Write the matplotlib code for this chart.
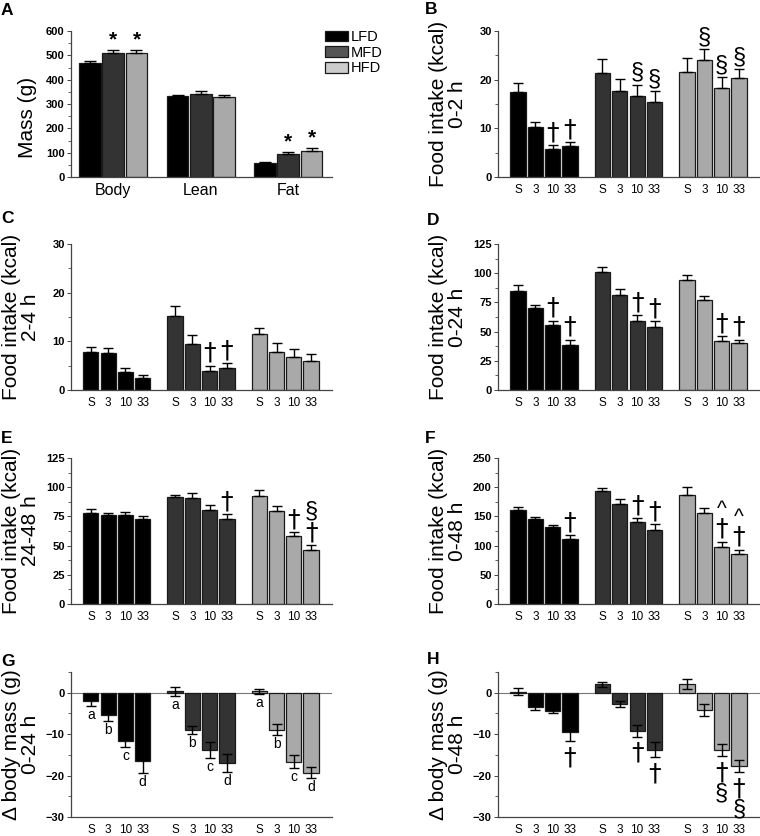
import matplotlib
matplotlib.use('Agg')
import matplotlib.pyplot as plt
from matplotlib.patches import Patch
import numpy as np

plt.rcParams['font.family'] = ['Liberation Sans', 'DejaVu Sans']

# ---- data ----
diets = ['LFD', 'MFD', 'HFD']
doses = ['S', '3', '10', '33']
mass_cats = ['Body', 'Lean', 'Fat']

# A: mass (g), rows = diet, cols = Body/Lean/Fat
mass_mean = [[468, 334, 59], [511, 342, 93], [511, 327, 108]]
mass_err = [[9, 4, 4], [9, 10, 10], [9, 8, 11]]
mass_sig = [['', '', ''], ['*', '', '*'], ['*', '', '*']]

# B: food intake 0-2 h
b_mean = [[17.5, 10.3, 5.75, 6.3], [21.4, 17.7, 16.6, 15.5], [21.6, 24.1, 18.2, 20.3]]
b_err = [[1.9, 1.0, 0.75, 0.9], [2.8, 2.5, 2.4, 2.2], [2.9, 2.1, 2.3, 1.9]]
b_sig = [['', '', '†', '†'], ['', '', '§', '§'], ['', '§', '§', '§']]

# C: food intake 2-4 h
c_mean = [[7.9, 7.5, 3.6, 2.5], [15.2, 9.4, 3.9, 4.5], [11.6, 7.8, 6.8, 6.0]]
c_err = [[0.9, 1.2, 1.0, 0.6], [2.0, 1.8, 1.1, 1.0], [1.2, 1.8, 1.7, 1.3]]
c_sig = [['', '', '', ''], ['', '', '†', '†'], ['', '', '', '']]

# D: food intake 0-24 h
d_mean = [[84.7, 69.8, 56.0, 38.3], [101.3, 81.2, 58.9, 54.0], [93.8, 76.7, 42.3, 40.0]]
d_err = [[4.8, 2.9, 3.5, 4.9], [4.0, 5.5, 4.9, 5.2], [4.9, 4.0, 4.0, 3.2]]
d_sig = [['', '', '†', '†'], ['', '', '†', '†'], ['', '', '†', '†']]

# E: food intake 24-48 h (symbols listed from the bar outwards)
e_mean = [[77.8, 76.1, 76.4, 72.9], [91.2, 90.4, 80.4, 72.7], [92.4, 79.5, 57.8, 46.3]]
e_err = [[3.4, 1.4, 2.3, 2.6], [2.0, 4.3, 4.0, 4.5], [4.9, 4.3, 4.0, 4.3]]
e_sig = [['', '', '', ''], ['', '', '', '†'], ['', '', '†', '†§']]

# F: food intake 0-48 h
f_mean = [[160.2, 145.9, 132.7, 111.6], [193.4, 171.6, 139.6, 126.4], [186.5, 155.6, 98.4, 86.4]]
f_err = [[5.1, 2.3, 2.9, 6.8], [4.5, 8.0, 7.4, 9.8], [13.7, 8.0, 8.6, 6.8]]
f_sig = [['', '', '', '†'], ['', '', '†', '†'], ['', '', '†^', '†^']]

# G: change in body mass 0-24 h
g_mean = [[-2.1, -5.4, -11.6, -16.4], [0.4, -9.0, -13.8, -17.0], [0.4, -8.9, -16.7, -19.3]]
g_err = [[1.1, 1.5, 1.4, 2.9], [1.1, 1.0, 1.9, 2.1], [0.6, 1.35, 1.55, 1.25]]
g_letters = ['a', 'b', 'c', 'd']

# H: change in body mass 0-48 h
h_mean = [[0.25, -3.4, -4.4, -9.4], [2.0, -2.7, -9.2, -13.8], [2.2, -4.1, -13.8, -17.7]]
h_err = [[0.8, 0.8, 0.6, 2.3], [0.7, 0.8, 1.4, 1.8], [1.2, 1.4, 1.45, 1.4]]
h_sig = [['', '', '', '†'], ['', '', '†', '†'], ['', '', '†§', '†§']]

bar_cols = ['#000000', '#333333', '#a9a9a9']
leg_cols = ['#000000', '#555555', '#cccccc']

# font, size and stacking step (points) for each significance mark
sym_style = {'†': ('DejaVu Sans', 18, 16), '§': ('Liberation Sans', 17, 13),
             '^': ('Liberation Sans', 15, 10), '*': ('Liberation Sans', 15, 10)}

W, H = 760, 836
fig = plt.figure(figsize=(W / 100, H / 100), dpi=100)


def px_axes(x0, y0, x1, y1):
    return fig.add_axes([x0 / W, 1 - y1 / H, (x1 - x0) / W, (y1 - y0) / H])


def style(ax, lo, hi, major, minor):
    ax.set_ylim(lo, hi)
    ticks = np.arange(lo, hi + 0.01, major)
    labs = ['%d' % t if t >= 0 else '\u2212%d' % -t for t in ticks]
    ax.set_yticks(ticks, labels=labs, fontweight='bold', fontsize=8)
    ax.set_yticks(np.arange(lo, hi + 0.01, minor), minor=True)
    for s in ['top', 'right']:
        ax.spines[s].set_visible(False)
    for s in ['left', 'bottom']:
        ax.spines[s].set_color('#444444')
        ax.spines[s].set_linewidth(0.9)
    ax.tick_params(axis='y', which='major', length=3, width=0.7, pad=1.5, color='#444444')
    ax.tick_params(axis='y', which='minor', length=2, width=0.6, color='#444444')
    ax.tick_params(axis='x', length=0, pad=5, labelsize=8.5)


def ylab(ax, text, x_off=50, yc=None):
    pos = ax.get_position()
    xpx = pos.x0 * W - x_off
    ypx = (1 - (pos.y0 + pos.height / 2)) * H if yc is None else yc
    fig.text(xpx / W, 1 - ypx / H, text, rotation=90, ha='center', va='center',
             fontsize=15, linespacing=1.05)


def panel_letter(letter, x, y):
    fig.text(x / W, 1 - y / H, letter, fontsize=12.5, fontweight='bold', ha='left', va='baseline')


def mark(ax, x, y, syms, below=False, weight='normal'):
    off = -3 if below else 0.5
    for s in syms:
        fam, size, step = sym_style[s]
        ax.annotate(s, (x, y), xytext=(0, off), textcoords='offset points', ha='center',
                    va='top' if below else 'bottom', fontsize=size, family=fam,
                    fontweight=weight)
        off = off - step if below else off + step


gap = 4.87


def dose_bars(ax, mean, err, sig=None, below=False, two_sided=False):
    xs_all = []
    for i in range(3):
        xs = np.arange(4) + i * gap
        xs_all.extend(xs)
        m = np.array(mean[i])
        e = np.array(err[i])
        ax.bar(xs, m, width=0.88, color=bar_cols[i], edgecolor='#1a1a1a', linewidth=0.9, zorder=2)
        yerr = [e, e] if two_sided else [np.zeros(4), e]
        ax.errorbar(xs, m, yerr=yerr, fmt='none', ecolor='black', elinewidth=1,
                    capsize=3.5, capthick=1, zorder=3)
        if sig is None:
            continue
        for j in range(4):
            if sig[i][j]:
                y = m[j] - e[j] if below else m[j] + e[j]
                mark(ax, xs[j], y, sig[i][j], below=below)
    ax.set_xticks(xs_all, labels=doses * 3)
    ax.set_xlim(-1.15, 13.95)


# ---- A ----
axA = px_axes(71, 31, 332, 177)
gA = 3.77
for i in range(3):
    xs = np.arange(3) * gA + i
    axA.bar(xs, mass_mean[i], width=0.94, color=bar_cols[i], edgecolor='#1a1a1a', linewidth=0.9,
            zorder=2)
    axA.errorbar(xs, mass_mean[i], yerr=[np.zeros(3), mass_err[i]], fmt='none', ecolor='black',
                 elinewidth=1, capsize=4, capthick=1, zorder=3)
    for j in range(3):
        if mass_sig[i][j]:
            mark(axA, xs[j], mass_mean[i][j] + mass_err[i][j], mass_sig[i][j], weight='bold')
style(axA, 0, 600, 100, 50)
axA.set_xticks(np.arange(3) * gA + 1, labels=mass_cats)
axA.tick_params(axis='x', labelsize=11.5, pad=4)
axA.set_xlim(-0.82, 10.42)
handles = [Patch(facecolor=leg_cols[i], edgecolor='#1a1a1a', linewidth=0.9) for i in range(3)]
axA.legend(handles, diets, loc='upper left', bbox_to_anchor=(325 / W, 1 - 30 / H),
           bbox_transform=fig.transFigure, frameon=False, fontsize=10.5, handlelength=1.55,
           handleheight=0.75, handletextpad=0.2, labelspacing=0.12, borderpad=0,
           borderaxespad=0)
ylab(axA, 'Mass (g)', x_off=43, yc=117)
panel_letter('A', 1, 15)

# ---- B ----
axB = px_axes(498, 31, 760, 177)
dose_bars(axB, b_mean, b_err, b_sig)
style(axB, 0, 30, 10, 5)
ylab(axB, 'Food intake (kcal)\n0-2 h')
panel_letter('B', 425, 14)

# ---- C ----
axC = px_axes(71, 244, 332, 390)
dose_bars(axC, c_mean, c_err, c_sig)
style(axC, 0, 30, 10, 5)
ylab(axC, 'Food intake (kcal)\n2-4 h')
panel_letter('C', 1, 223)

# ---- D ----
axD = px_axes(498, 244, 760, 390)
dose_bars(axD, d_mean, d_err, d_sig)
style(axD, 0, 125, 25, 12.5)
ylab(axD, 'Food intake (kcal)\n0-24 h')
panel_letter('D', 427, 225)

# ---- E ----
axE = px_axes(71, 458, 332, 604)
dose_bars(axE, e_mean, e_err, e_sig)
style(axE, 0, 125, 25, 12.5)
ylab(axE, 'Food intake (kcal)\n24-48 h')
panel_letter('E', 1, 443)

# ---- F ----
axF = px_axes(498, 458, 760, 604)
dose_bars(axF, f_mean, f_err, f_sig)
style(axF, 0, 250, 50, 25)
ylab(axF, 'Food intake (kcal)\n0-48 h')
panel_letter('F', 425, 443)

# ---- G ----
axG = px_axes(71, 672, 332, 817)
dose_bars(axG, g_mean, g_err, two_sided=True)
for i in range(3):
    for j in range(4):
        axG.annotate(g_letters[j], (j + i * gap, g_mean[i][j] - g_err[i][j]), xytext=(0, -1.5),
                     textcoords='offset points', ha='center', va='top', fontsize=10)
axG.axhline(0, color='#777777', lw=0.8, zorder=1)
style(axG, -30, 5, 10, 5)
axG.set_ylim(-30, 5)
ylab(axG, '\u0394 body mass (g)\n0-24 h')
panel_letter('G', 1, 666)

# ---- H ----
axH = px_axes(498, 672, 760, 817)
dose_bars(axH, h_mean, h_err, h_sig, below=True, two_sided=True)
axH.axhline(0, color='#777777', lw=0.8, zorder=1)
style(axH, -30, 5, 10, 5)
axH.set_ylim(-30, 5)
ylab(axH, '\u0394 body mass (g)\n0-48 h')
panel_letter('H', 427, 664)

fig.savefig('out.png', dpi=100)
